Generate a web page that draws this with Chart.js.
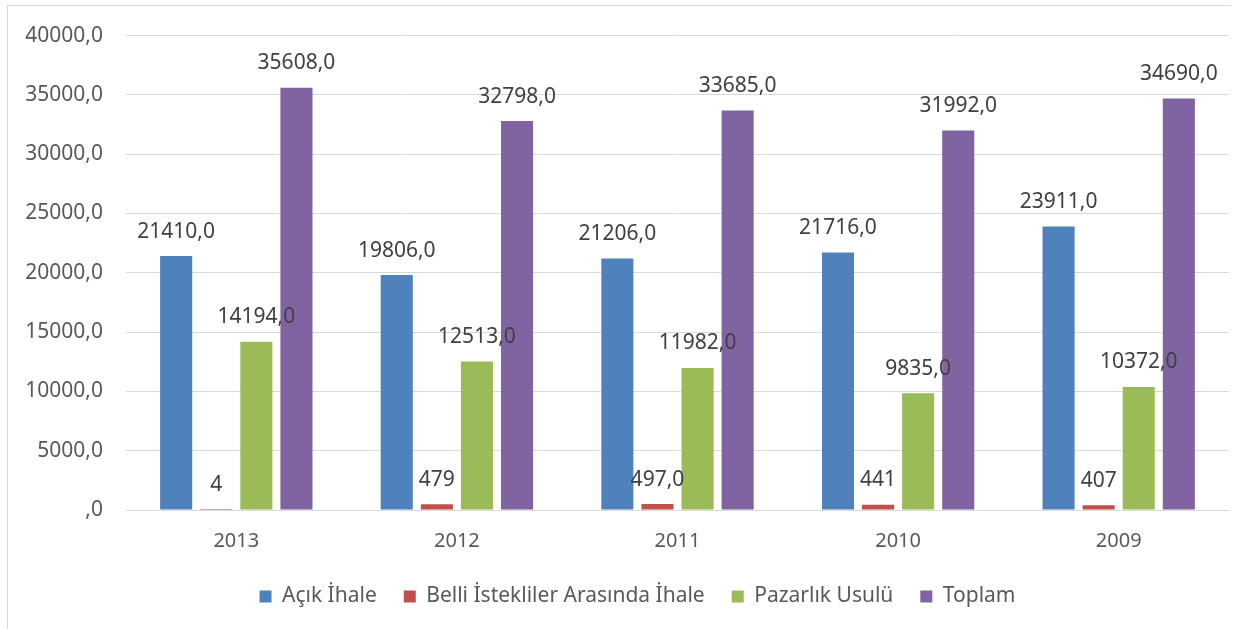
<!DOCTYPE html>
<html>
<head>
<meta charset="utf-8">
<script src="https://cdn.jsdelivr.net/npm/chart.js@4"></script>
<style>
  html, body { margin: 0; padding: 0; background: #fff; }
  #wrap { position: relative; width: 1255px; height: 629px; }
  #frame { position: absolute; left: 7px; top: 5px; width: 1223px; height: 640px;
           border-left: 1px solid #d9d9d9; border-top: 1px solid #d9d9d9; }
  canvas { position: absolute; left: 0; top: 0; }
</style>
</head>
<body>
<div id="wrap">
  <div id="frame"></div>
  <canvas id="ihaleChart" width="1255" height="629"></canvas>
</div>
<script>
var years = ['2013', '2012', '2011', '2010', '2009'];
var acikIhale = [21410, 19806, 21206, 21716, 23911];
var belliIstekliler = [4, 479, 497, 441, 407];
var pazarlikUsulu = [14194, 12513, 11982, 9835, 10372];
var toplam = [35608, 32798, 33685, 31992, 34690];
// how the labels of the red series are written in the picture
var belliLabels = ['4', '479', '497,0', '441', '407'];

var yTicks = [0, 5000, 10000, 15000, 20000, 25000, 30000, 35000, 40000];

var fontFamily = '"Noto Sans", "Open Sans", sans-serif';

function fmt(v) {
    if (v === 0) return ',0';
    return String(v) + ',0';
}

var valueLabels = {
    id: 'valueLabels',
    afterDatasetsDraw: function(chart) {
        var ctx = chart.ctx;
        ctx.save();
        ctx.font = '21px ' + fontFamily;
        ctx.fillStyle = '#404040';
        ctx.textAlign = 'center';
        ctx.textBaseline = 'bottom';
        chart.data.datasets.forEach(function(ds, i) {
            var meta = chart.getDatasetMeta(i);
            meta.data.forEach(function(bar, j) {
                var txt = ds.labelTexts ? ds.labelTexts[j] : fmt(ds.data[j]);
                ctx.fillText(txt, bar.x, bar.y - 14);
            });
        });
        ctx.restore();
    }
};

// the legend in the picture sits a bit right of the canvas centre
var legendShift = {
    id: 'legendShift',
    afterLayout: function(chart) {
        chart.legend.left += 23;
        chart.legend.right += 23;
    }
};

var ctx = document.getElementById('ihaleChart');
var chart = new Chart(ctx, {
    type: 'bar',
    data: {
        labels: years,
        datasets: [
            { label: 'Açık İhale', data: acikIhale, backgroundColor: '#4f81bd' },
            { label: 'Belli İstekliler Arasında İhale', data: belliIstekliler,
              backgroundColor: '#c0504d', labelTexts: belliLabels },
            { label: 'Pazarlık Usulü', data: pazarlikUsulu, backgroundColor: '#9bbb59' },
            { label: 'Toplam', data: toplam, backgroundColor: '#8064a2' }
        ]
    },
    options: {
        responsive: false,
        animation: false,
        categoryPercentage: 0.727,
        barPercentage: 0.8,
        layout: { padding: { top: 35, right: 26, left: 0, bottom: 12 } },
        plugins: {
            tooltip: { enabled: false },
            legend: {
                position: 'bottom',
                labels: {
                    boxWidth: 12,
                    boxHeight: 12,
                    padding: 27,
                    color: '#595959',
                    font: { family: fontFamily, size: 21 }
                }
            }
        },
        scales: {
            x: {
                afterFit: function(scale) { scale.height = 49; },
                grid: { display: false },
                border: { color: '#d9d9d9' },
                ticks: { color: '#595959', padding: 11, font: { family: fontFamily, size: 20 } }
            },
            y: {
                min: 0,
                max: 40000,
                afterFit: function(scale) { scale.width = 126; },
                afterBuildTicks: function(scale) {
                    scale.ticks = yTicks.map(function(v) { return { value: v }; });
                },
                grid: { color: '#d9d9d9', drawTicks: false },
                border: { display: false },
                ticks: {
                    color: '#595959',
                    padding: 23,
                    font: { family: fontFamily, size: 21 },
                    callback: function(v) { return fmt(v); }
                }
            }
        }
    },
    plugins: [valueLabels, legendShift]
});
</script>
</body>
</html>
